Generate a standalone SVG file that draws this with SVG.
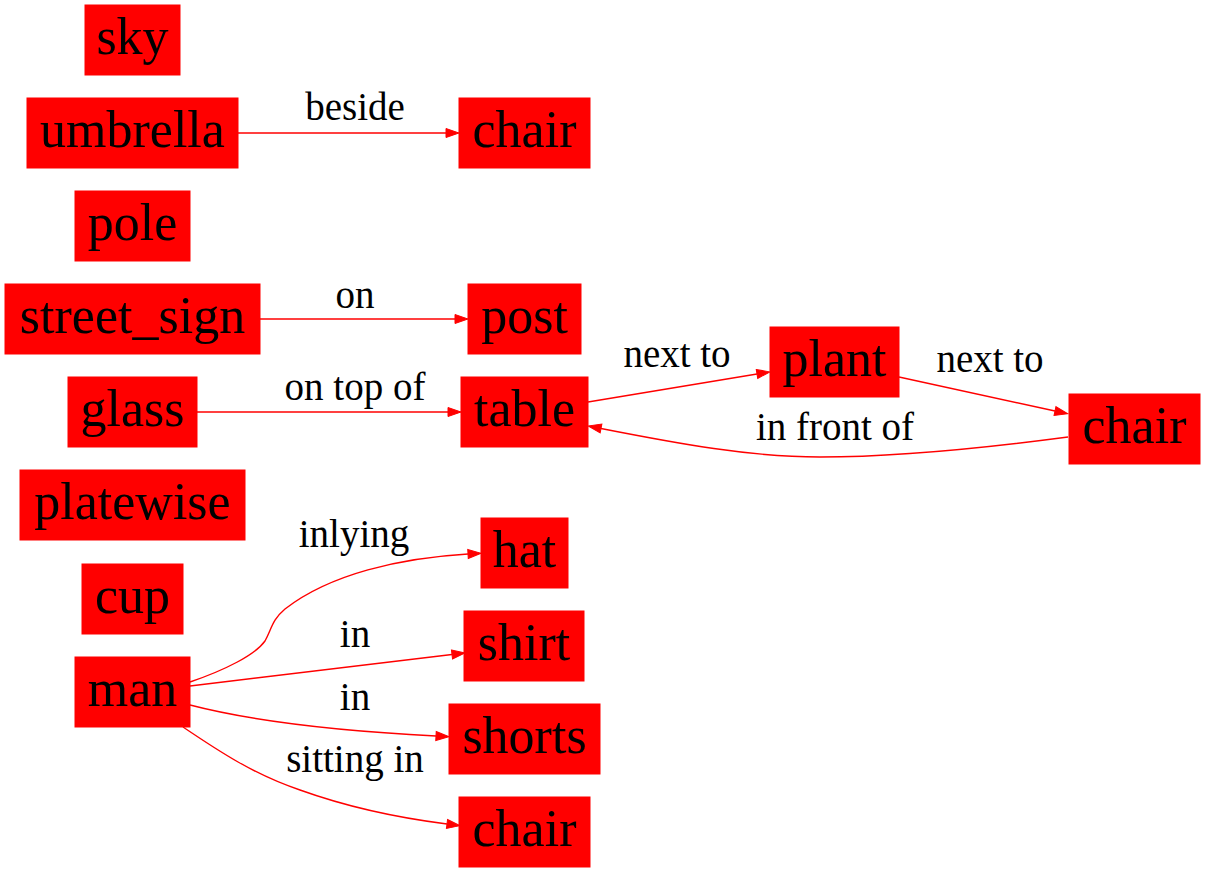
<svg xmlns="http://www.w3.org/2000/svg" width="1205" height="873" viewBox="0 0 1205 873">
<style>
.n rect{fill:#ff0000;stroke:#ff0000;stroke-width:1}
.n text{font-size:52px;fill:#000;text-anchor:middle}
.e path{fill:none;stroke:#ff0000;stroke-width:1.4;marker-end:url(#ah)}
.e text{font-size:39px;fill:#000;text-anchor:middle}
text{font-family:'Times New Roman',Times,Tinos,'Liberation Serif','Noto Serif','DejaVu Serif',FreeSerif,serif}
</style>
<defs>
<marker id="ah" markerUnits="userSpaceOnUse" markerWidth="14" markerHeight="10" refX="0" refY="4.5" orient="auto" overflow="visible">
<path d="M0,0 L13,4.5 L0,9 z" fill="#ff0000" stroke="#ff0000" stroke-width="1"/>
</marker>
</defs>
<rect width="1205" height="873" fill="#fff"/>
<g id="edges" class="e">
<path d="M238,133 L446,133"/>
<text x="355" y="120">beside</text>
<path d="M260,319 L455,319"/>
<text x="355" y="308">on</text>
<path d="M197,412 L448,412"/>
<text x="355" y="400">on top of</text>
<path d="M588,402 L757,374"/>
<text x="677" y="367">next to</text>
<path d="M899,377 L1055,411"/>
<text x="990" y="372">next to</text>
<path d="M1068,437 C1000,446 900,457 820,457 C750,457 680,444 601,428.5"/>
<text x="835" y="440">in front of</text>
<path d="M190,682 C225,670 255,655 265,641 C272,628 272,620 285,609 C330,574 400,558 468,554"/>
<text x="354" y="547">inlying</text>
<path d="M190,686 L452,654.5"/>
<text x="355" y="647">in</text>
<path d="M190,705 C240,718 320,730 436,736"/>
<text x="355" y="710">in</text>
<path d="M183,727 C220,752 255,775 300,790 C350,808 400,818 447,824"/>
<text x="355" y="772">sitting in</text>
</g>
<g id="sky" class="n"><rect x="85" y="5" width="95" height="70"/><text x="132.5" y="54">sky</text></g>
<g id="umbrella" class="n"><rect x="27" y="98" width="211" height="70"/><text x="132.5" y="147">umbrella</text></g>
<g id="chair1" class="n"><rect x="459" y="98" width="131" height="70"/><text x="524.5" y="147">chair</text></g>
<g id="pole" class="n"><rect x="75" y="191" width="115" height="70"/><text x="132.5" y="240">pole</text></g>
<g id="street_sign" class="n"><rect x="5" y="284" width="255" height="70"/><text x="132.5" y="333">street_sign</text></g>
<g id="post" class="n"><rect x="468" y="284" width="113" height="70"/><text x="524.5" y="333">post</text></g>
<g id="glass" class="n"><rect x="68" y="377" width="129" height="70"/><text x="132.5" y="426">glass</text></g>
<g id="table" class="n"><rect x="461" y="377" width="127" height="70"/><text x="524.5" y="426">table</text></g>
<g id="plant" class="n"><rect x="770" y="327" width="129" height="70"/><text x="834.5" y="376">plant</text></g>
<g id="chair2" class="n"><rect x="1069" y="394" width="131" height="70"/><text x="1134.5" y="443">chair</text></g>
<g id="platewise" class="n"><rect x="20" y="470" width="225" height="70"/><text x="132.5" y="519">platewise</text></g>
<g id="cup" class="n"><rect x="82" y="564" width="101" height="70"/><text x="132.5" y="613">cup</text></g>
<g id="man" class="n"><rect x="75" y="657" width="115" height="70"/><text x="132.5" y="706">man</text></g>
<g id="hat" class="n"><rect x="481" y="518" width="87" height="70"/><text x="524.5" y="567">hat</text></g>
<g id="shirt" class="n"><rect x="464" y="611" width="120" height="70"/><text x="524" y="660">shirt</text></g>
<g id="shorts" class="n"><rect x="449" y="704" width="151" height="70"/><text x="524.5" y="753">shorts</text></g>
<g id="chair3" class="n"><rect x="459" y="797" width="131" height="70"/><text x="524.5" y="846">chair</text></g>
</svg>
